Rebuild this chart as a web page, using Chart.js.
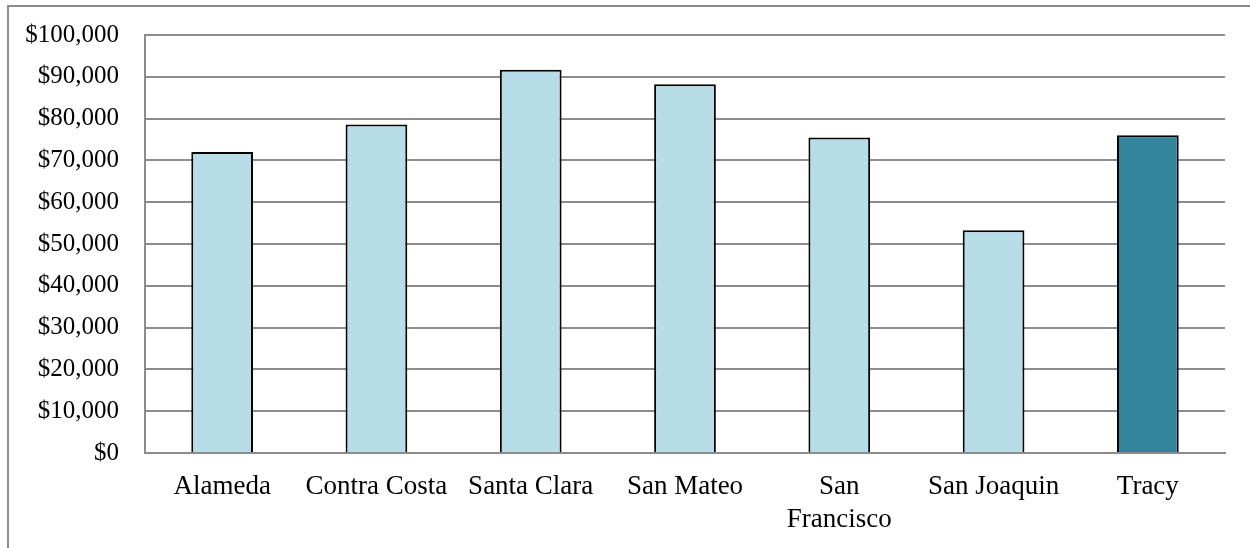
<!DOCTYPE html>
<html>
<head>
<meta charset="utf-8">
<script src="https://cdn.jsdelivr.net/npm/chart.js@4"></script>
<style>
html,body{margin:0;padding:0;background:#fff;overflow:hidden;}
#wrap{position:relative;width:1250px;height:548px;}
#frame{position:absolute;left:7px;top:5px;width:1300px;height:600px;border-left:2px solid #8c8c8c;border-top:2px solid #8c8c8c;}
#chart{position:absolute;left:0;top:0;}
</style>
</head>
<body>
<div id="wrap">
  <div id="frame"></div>
  <canvas id="chart" width="1250" height="548"></canvas>
</div>
<script>
// Median household income by area
var categories=['Alameda','Contra Costa','Santa Clara','San Mateo',['San','Francisco'],'San Joaquin','Tracy'];
var incomes=[72000,78600,91700,88200,75500,53300,76000];
var barColors=['#b7dde8','#b7dde8','#b7dde8','#b7dde8','#b7dde8','#b7dde8','#31849b'];
var yTicks=[0,10000,20000,30000,40000,50000,60000,70000,80000,90000,100000];

var FONT='"Liberation Serif", "Times New Roman", serif';
var GRID='#8c8c8c';

function money(v){return '$'+v.toLocaleString('en-US');}

new Chart(document.getElementById('chart'),{
    type:'bar',
    data:{
        labels:categories,
        datasets:[{
            data:incomes,
            backgroundColor:barColors,
            borderColor:'#000',
            borderWidth:2,
            borderSkipped:'bottom',
            categoryPercentage:1,
            barPercentage:0.4
        }]
    },
    options:{
        responsive:false,animation:false,
        layout:{padding:{top:35,right:25,left:0,bottom:0}},
        plugins:{legend:{display:false},tooltip:{enabled:false}},
        scales:{
            x:{
                grid:{display:false,drawTicks:false},
                border:{display:true,color:GRID,width:2},
                ticks:{color:'#000',padding:17,maxRotation:0,autoSkip:false,font:{family:FONT,size:27,lineHeight:1.22}},
                afterFit:function(s){s.height=95;}
            },
            y:{
                min:0,max:100000,
                afterBuildTicks:function(s){s.ticks=yTicks.map(function(v){return {value:v};});},
                grid:{color:GRID,lineWidth:2,drawTicks:false},
                border:{display:true,color:GRID,width:2},
                ticks:{color:'#000',padding:26,font:{family:FONT,size:25},callback:function(v){return money(v);}},
                afterFit:function(s){s.width=145;s.paddingTop=0;s.paddingBottom=0;}
            }
        }
    }
});
</script>
</body>
</html>
